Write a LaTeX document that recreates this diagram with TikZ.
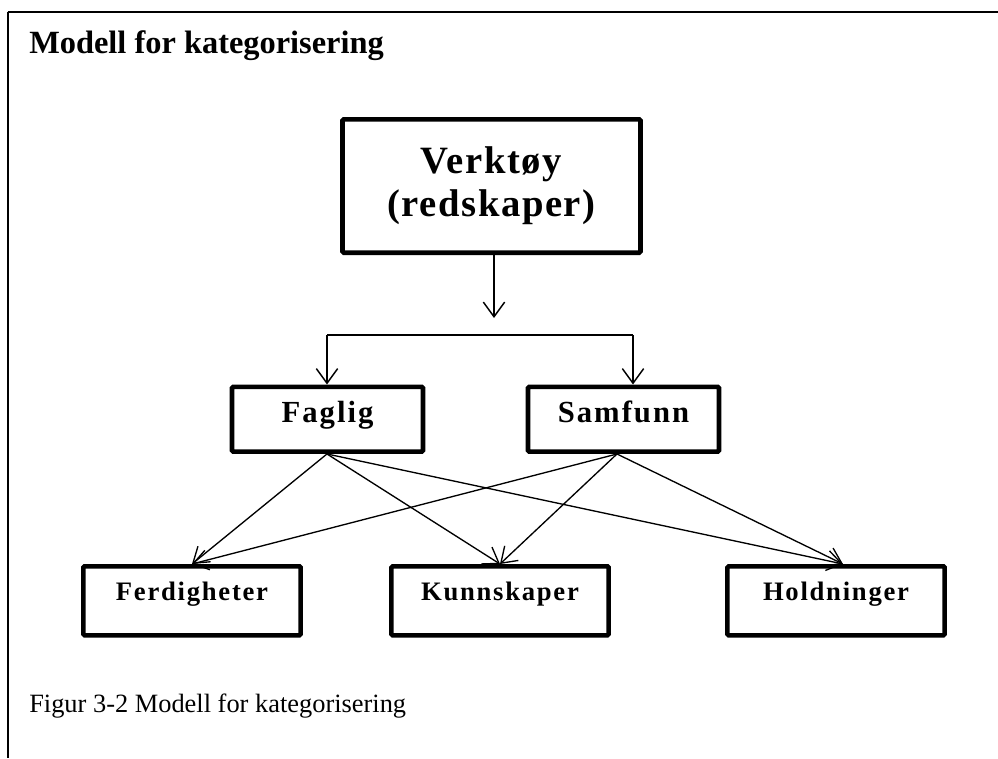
\documentclass[tikz,border=0pt]{standalone}
\usepackage{fontspec}
\setmainfont{Liberation Serif}
% spaced-out bold lettering used inside the boxes
\newfontfamily\spacedfont[LetterSpace=4]{Liberation Serif}
\newfontfamily\widefont[LetterSpace=6.5]{Liberation Serif}
\usetikzlibrary{arrows.meta}

\begin{document}
\begin{tikzpicture}[x=0.75pt,y=-0.75pt,
  box/.style={draw, line width=3.4pt, rounded corners=1pt, inner sep=0pt},
  topbox/.style={box, minimum width=223.5pt, minimum height=100.1pt, align=center,
    font=\fontsize{29}{32.5}\selectfont\spacedfont\bfseries},
  midbox/.style={box, anchor=north, minimum width=143.25pt,
    text height=26.6pt, text depth=22.1pt,
    font=\fontsize{23}{27}\selectfont\widefont\bfseries},
  lowbox/.style={box, anchor=north, minimum width=163pt,
    text height=25.5pt, text depth=26.25pt,
    font=\fontsize{20}{24}\selectfont\widefont\bfseries},
  wire/.style={line width=1.1pt},
  link/.style={wire, -{Straight Barb[length=11pt,width=16pt]}},
  cross/.style={line width=1pt, -{Straight Barb[length=11pt,width=15pt]}}
]
\useasboundingbox (0,0) rectangle (998,758);
\fill[white] (0,0) rectangle (998,758);

% open frame: top and left rules only
\draw[line width=2pt] (7.5,12) -- (998,12);
\draw[line width=1pt] (8,12) -- (8,758);

% heading and caption
\node[anchor=base west, inner sep=0pt] (heading) at (29,53)
  {\fontsize{24.3}{28}\selectfont\bfseries Modell for kategorisering};
\node[anchor=base west, inner sep=0pt] (caption) at (29,712)
  {\fontsize{19.8}{24}\selectfont Figur 3-2 Modell for kategorisering};

% boxes
\node[topbox] (tool) at (491.5,186) {Verktøy\\(redskaper)};
\node[midbox] (faglig) at (327.5,384.5) {Faglig};
\node[midbox] (samfunn) at (623.5,384.5) {Samfunn};
\node[lowbox] (ferd) at (192,564) {Ferdigheter};
\node[lowbox] (kunn) at (500,564) {Kunnskaper};
\node[lowbox] (hold) at (836,564) {Holdninger};

% top arrow and the split bar
\coordinate (split) at (494,318);
\coordinate (busL) at (327,335);
\coordinate (busR) at (633,335);
\draw[link] (tool.south -| split) -- (split);
\draw[wire] (busL) -- (busR);
\draw[link] (busL) -- (busL |- faglig.north);
\draw[link] (busR) -- (busR |- samfunn.north);

% crossing arrows to the three categories
\coordinate (fagOut) at ([xshift=-0.4pt]faglig.south);
\coordinate (samOut) at ([xshift=-4.9pt]samfunn.south);
\coordinate (holdIn) at ([xshift=5.2pt]hold.north);
\draw[cross] (fagOut) -- (ferd.north);
\draw[cross] (fagOut) -- (kunn.north);
\draw[cross] (fagOut) -- (holdIn);
\draw[cross] (samOut) -- (ferd.north);
\draw[cross] (samOut) -- (kunn.north);
\draw[cross] (samOut) -- (holdIn);
\end{tikzpicture}
\end{document}
